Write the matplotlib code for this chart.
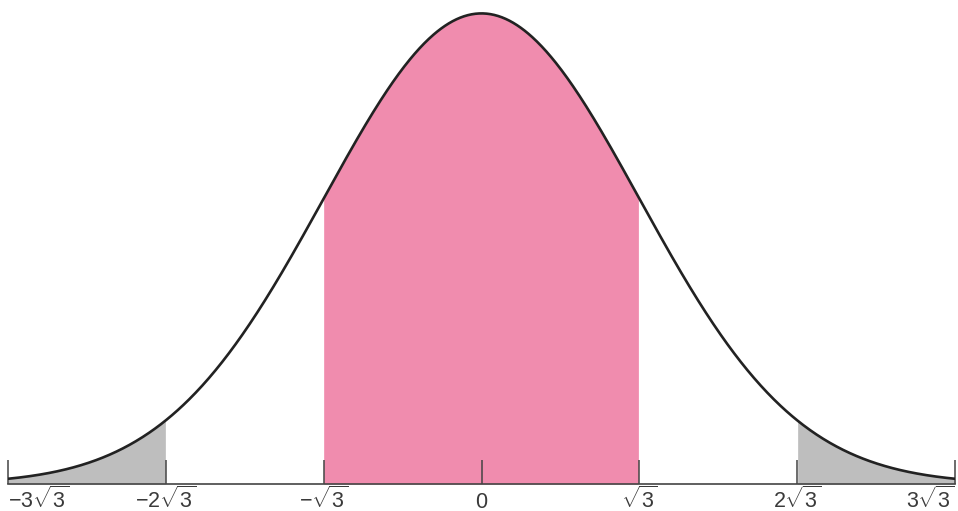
import numpy as np
import matplotlib.pyplot as plt

plt.rcParams['mathtext.fontset'] = 'custom'
plt.rcParams['mathtext.rm'] = 'Liberation Sans'
plt.rcParams['mathtext.it'] = 'Liberation Sans'

sigma = np.sqrt(3)
tick_mult = [-3, -2, -1, 0, 1, 2, 3]
tick_labels = [r'$-3\sqrt{3}$', r'$-2\sqrt{3}$', r'$-\sqrt{3}$', r'$0$',
               r'$\sqrt{3}$', r'$2\sqrt{3}$', r'$3\sqrt{3}$']
pink_range = (-1, 1)
grey_ranges = [(-3, -2), (2, 3)]

x = np.linspace(-3 * sigma, 3 * sigma, 1000)
y = np.exp(-x**2 / (2 * sigma**2)) / (sigma * np.sqrt(2 * np.pi))

fig = plt.figure(figsize=(9.58, 5.11), dpi=100)
ax = fig.add_axes([8 / 958, 27 / 511, 947 / 958, 472 / 511])

m = (x >= pink_range[0] * sigma) & (x <= pink_range[1] * sigma)
ax.fill_between(x[m], 0, y[m], color='#f08cae', lw=0)
for a, b in grey_ranges:
    m = (x >= a * sigma) & (x <= b * sigma)
    ax.fill_between(x[m], 0, y[m], color='#bebebe', lw=0)

ax.plot(x, y, color='#222222', lw=1.9, solid_capstyle='round')

ax.set_xlim(-3 * sigma, 3 * sigma)
ax.set_ylim(0, y.max() * 1.003)
for s in ['top', 'left', 'right']:
    ax.spines[s].set_visible(False)
ax.spines['bottom'].set_color('#444444')
ax.spines['bottom'].set_linewidth(1.2)
ax.set_yticks([])
ax.set_xticks(np.array(tick_mult) * sigma)
ax.set_xticklabels(tick_labels, fontsize=15.5, color='#3a3a3a',
                   family=['Liberation Sans', 'DejaVu Sans'])
ax.tick_params(axis='x', direction='in', length=17, width=1.1,
               color='#444444', pad=17)
labels = ax.get_xticklabels()
for lab in labels:
    lab.set_va('baseline')
labels[0].set_ha('left')
labels[-1].set_ha('right')

fig.savefig('out.png', dpi=100)
